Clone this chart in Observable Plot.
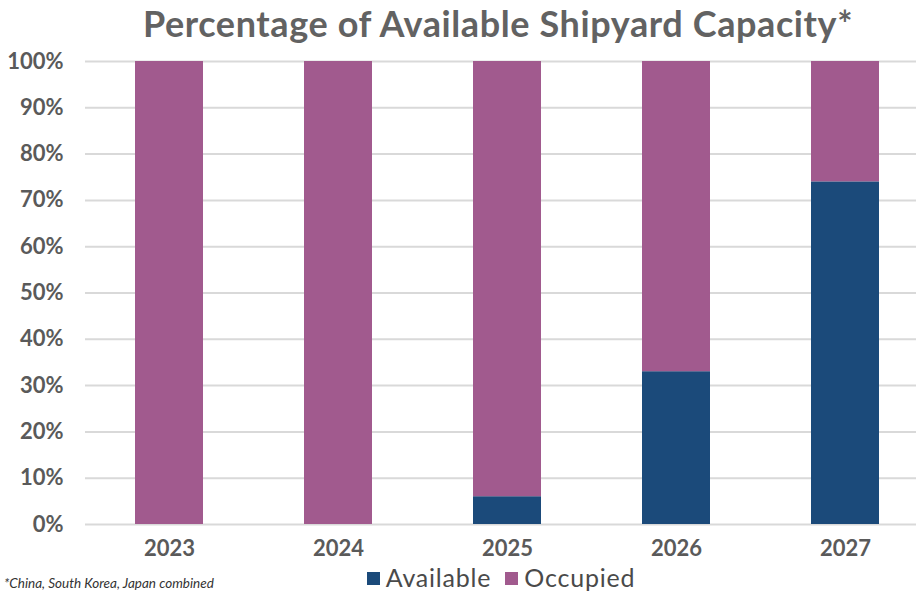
<!DOCTYPE html>
<html><head><meta charset="utf-8">
<script src="https://cdn.jsdelivr.net/npm/d3@7"></script>
<script src="https://cdn.jsdelivr.net/npm/@observablehq/plot@0.6"></script>
<style>
html,body{margin:0;padding:0;background:#fff;}
#wrap{position:relative;width:916px;height:594px;overflow:hidden;font-family:Lato,"Open Sans",sans-serif;background:#fff;}
#title{position:absolute;z-index:2;left:40px;top:2px;width:916px;text-align:center;font-size:36px;font-weight:bold;color:#626262;letter-spacing:0.6px;line-height:42px;white-space:nowrap;}
#chart{position:absolute;z-index:1;left:0;top:36px;}
#legend{position:absolute;z-index:2;left:0;top:562px;width:1002px;text-align:center;font-size:25px;color:#4a4a4a;letter-spacing:0.8px;white-space:nowrap;line-height:30px;}
#legend span.sw{display:inline-block;width:13px;height:13px;margin-right:6px;vertical-align:2px;}
#legend span.it{margin:0 7px;}
#foot{position:absolute;z-index:2;left:4px;top:575px;font-size:13.5px;font-style:italic;color:#333;white-space:nowrap;line-height:16px;}
</style></head>
<body><div id="wrap">
<div id="title">Percentage of Available Shipyard Capacity*</div>
<div id="chart"></div>
<div id="legend"></div>
<div id="foot">*China, South Korea, Japan combined</div>
</div>
<script>
const years = ["2023","2024","2025","2026","2027"];
const available = [0,0,6,33,74];
const occupied = [100,100,94,67,26];
const seriesNames = ["Available","Occupied"];
const seriesColors = ["#1b4a7a","#a15a8e"];
const yTicks = [0,10,20,30,40,50,60,70,80,90,100];

const rows = [];
years.forEach((y,i)=>{
  rows.push({year:y, series:"Available", value:available[i]});
  rows.push({year:y, series:"Occupied", value:occupied[i]});
});

const chart = Plot.plot({
  width:916, height:534,
  marginTop:25, marginBottom:46, marginLeft:85, marginRight:0,
  style:{fontFamily:"Lato, 'Open Sans', sans-serif", fontSize:"21px", color:"#595959", background:"transparent", overflow:"visible"},
  x:{domain:years, range:[84.5,929.5], paddingInner:0.6, paddingOuter:0.3, label:null},
  y:{domain:[0,100], ticks:yTicks, tickFormat:d=>d+"%", label:null},
  color:{domain:seriesNames, range:seriesColors},
  marks:[
    Plot.ruleY(yTicks,{stroke:"#d9d9d9", strokeWidth:2}),
    Plot.barY(rows, Plot.stackY({x:"year", y:"value", fill:"series", order:seriesNames})),
    Plot.axisY({ticks:yTicks, tickFormat:d=>d+"%", tickSize:0, tickPadding:22, fontSize:22, fontWeight:"bold", fill:"#5a5a5a"}),
    Plot.axisX({tickSize:0, tickPadding:16, fontSize:22, fontWeight:"bold", fill:"#5a5a5a"})
  ]
});
document.getElementById("chart").appendChild(chart);

const leg = document.getElementById("legend");
seriesNames.forEach((n,i)=>{
  const s = document.createElement("span"); s.className="it";
  s.innerHTML = `<span class="sw" style="background:${seriesColors[i]}"></span>${n}`;
  leg.appendChild(s);
});
</script>
</body></html>
